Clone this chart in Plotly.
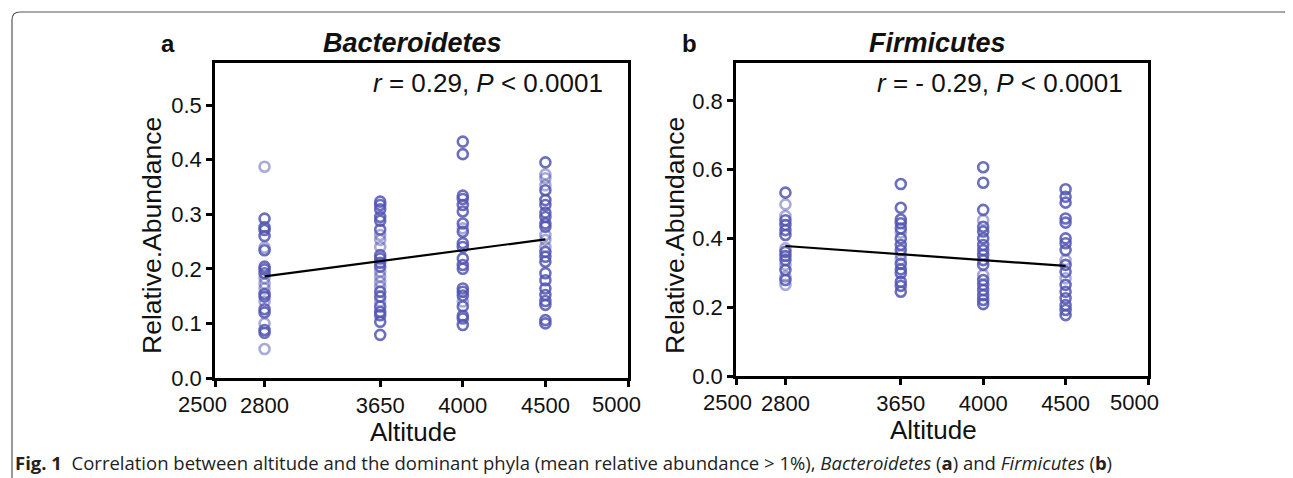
import plotly.graph_objects as go

W, H = 1293, 478          # browser window
OFF = 8                   # default page margin around the plot div
WF, HF = W - OFF, H - OFF # figure size so that it fills the window exactly

# ---------------- data ----------------
altitude_labels = ["2800", "3650", "4000", "4500"]
altitude_pos = [2800, 3500, 4000, 4500]          # where each site sits on the drawn axis
axis_ticks = [2500, 2800, 3500, 4000, 4500, 5000]
axis_ticktext = ["", "2800", "3650", "4000", "4500", ""]
edge_labels = ["2500", "5000"]

bact_dark = [
    [0.292, 0.276, 0.271, 0.260, 0.234, 0.204, 0.199, 0.192, 0.154, 0.149, 0.126, 0.120, 0.088, 0.083],
    [0.323, 0.317, 0.309, 0.295, 0.288, 0.272, 0.225, 0.219, 0.211, 0.204, 0.158, 0.149, 0.131, 0.121, 0.115, 0.103, 0.079],
    [0.433, 0.410, 0.334, 0.328, 0.317, 0.305, 0.283, 0.268, 0.247, 0.240, 0.219, 0.207, 0.200, 0.164, 0.158, 0.151, 0.131, 0.114, 0.109, 0.097],
    [0.395, 0.344, 0.326, 0.317, 0.303, 0.295, 0.283, 0.277, 0.231, 0.222, 0.213, 0.192, 0.179, 0.164, 0.152, 0.141, 0.134, 0.106, 0.100],
]
bact_light = [
    [0.387, 0.239, 0.183, 0.173, 0.164, 0.140, 0.100, 0.053],
    [0.262, 0.253, 0.240, 0.195, 0.186, 0.176, 0.167, 0.140],
    [0.274, 0.140],
    [0.373, 0.366, 0.353, 0.262, 0.253, 0.240],
]
firm_dark = [
    [0.533, 0.453, 0.439, 0.424, 0.410, 0.361, 0.349, 0.337, 0.308, 0.279],
    [0.558, 0.489, 0.455, 0.444, 0.429, 0.400, 0.381, 0.366, 0.326, 0.310, 0.299, 0.274, 0.262, 0.245],
    [0.607, 0.562, 0.483, 0.434, 0.420, 0.400, 0.381, 0.366, 0.352, 0.337, 0.323, 0.279, 0.265, 0.250, 0.235, 0.221, 0.209],
    [0.543, 0.521, 0.504, 0.458, 0.446, 0.400, 0.386, 0.366, 0.323, 0.303, 0.265, 0.245, 0.226, 0.206, 0.192, 0.177],
]
firm_light = [
    [0.499, 0.465, 0.371, 0.323, 0.289, 0.265],
    [0.417, 0.352, 0.339],
    [0.453, 0.294],
    [0.337, 0.284],
]
trend_x = [2800, 4500]
bact_trend = [0.186, 0.254]
firm_trend = [0.378, 0.320]

# ---------------- helpers (window pixels -> paper fractions) ----------------
def px(x):
    return (x - OFF) / WF

def py(y):
    return 1 - (y - OFF) / HF

FONT = "Liberation Sans, Arial, sans-serif"
MARK = "rgb(82,86,178)"

fig = go.Figure()

def add_points(dark, light, xa, ya):
    for vals, op in ((light, 0.5), (dark, 0.85)):
        xs, ys = [], []
        for pos, col in zip(altitude_pos, vals):
            xs += [pos] * len(col)
            ys += col
        fig.add_trace(go.Scatter(
            x=xs, y=ys, mode="markers", xaxis=xa, yaxis=ya, showlegend=False,
            marker=dict(symbol="circle-open", size=10, color=MARK, opacity=op,
                        line=dict(width=2.6, color=MARK)),
            hoverinfo="x+y"))

add_points(bact_dark, bact_light, "x", "y")
add_points(firm_dark, firm_light, "x2", "y2")
fig.add_trace(go.Scatter(x=trend_x, y=bact_trend, mode="lines", xaxis="x", yaxis="y",
                         line=dict(color="black", width=2.2), showlegend=False))
fig.add_trace(go.Scatter(x=trend_x, y=firm_trend, mode="lines", xaxis="x2", yaxis="y2",
                         line=dict(color="black", width=2.2), showlegend=False))

axis_common = dict(showgrid=False, zeroline=False, showline=True, linecolor="black",
                   linewidth=2.5, mirror=True, ticks="outside", ticklen=6, tickwidth=2.5,
                   tickcolor="black", automargin=False, tickangle=0,
                   tickfont=dict(family=FONT, size=22, color="#111"))

fig.update_layout(
    template="none",
    width=WF, height=HF, autosize=False,
    margin=dict(l=0, r=0, t=0, b=0, pad=0),
    paper_bgcolor="white", plot_bgcolor="white",
    showlegend=False,
    xaxis=dict(domain=[px(215), px(628)], range=[2500, 5000], anchor="y",
               tickvals=axis_ticks, ticktext=axis_ticktext, **axis_common),
    yaxis=dict(domain=[py(378), py(63)], range=[0, 0.577], anchor="x",
               tickvals=[0, 0.1, 0.2, 0.3, 0.4, 0.5], tickformat=".1f", **axis_common),
    xaxis2=dict(domain=[px(736), px(1148)], range=[2500, 5000], anchor="y2",
                tickvals=axis_ticks, ticktext=axis_ticktext, **axis_common),
    yaxis2=dict(domain=[py(376), py(63)], range=[0, 0.91], anchor="x2",
                tickvals=[0, 0.2, 0.4, 0.6, 0.8], tickformat=".1f", **axis_common),
)

def ann(text, x, y, size, xanchor="center", angle=0, family=FONT, color="#111"):
    fig.add_annotation(text=text, x=px(x), y=py(y), xref="paper", yref="paper",
                       xanchor=xanchor, yanchor="middle", showarrow=False, textangle=angle,
                       font=dict(family=family, size=size, color=color))

# end-of-axis tick labels, nudged inwards as in the original
ann(edge_labels[0], 202, 404, 22)
ann(edge_labels[1], 616, 404, 22)
ann(edge_labels[0], 727, 402, 22)
ann(edge_labels[1], 1134, 402, 22)

# panel labels and titles
ann("<b>a</b>", 168, 43, 24)
ann("<b>b</b>", 689, 43, 24)
ann("<b><i>Bacteroidetes</i></b>", 412, 43, 27)
ann("<b><i>Firmicutes</i></b>", 937, 43, 27)
ann("<i>r</i> = 0.29, <i>P</i> &lt; 0.0001", 605, 83, 26, xanchor="right")
ann("<i>r</i> = - 0.29, <i>P</i> &lt; 0.0001", 1125, 83, 26, xanchor="right")
# axis titles
ann("Altitude", 413, 432, 26)
ann("Altitude", 933, 430, 26)
ann("Relative.Abundance", 152, 236, 26.5, angle=-90)
ann("Relative.Abundance", 675, 236, 26.5, angle=-90)
# caption
fig.add_annotation(
    text="<b>Fig. 1</b>  Correlation between altitude and the dominant phyla (mean relative abundance &gt; 1%), "
         "<i>Bacteroidetes</i> (<b>a</b>) and <i>Firmicutes</i> (<b>b</b>)",
    x=px(13), y=py(462), xref="paper", yref="paper", xanchor="left", yanchor="middle",
    showarrow=False, font=dict(family="Open Sans, Noto Sans, sans-serif", size=18.5, color="#222"))

# figure frame (rounded box)
r_x, r_y = 8 / WF, 8 / HF
L, T, R = px(12), py(12), px(1291)
path = (f"M {L},0 L {L},{T - r_y} Q {L},{T} {L + r_x},{T} "
        f"L {R - r_x},{T} Q {R},{T} {R},{T - r_y} L {R},0")
fig.add_shape(type="path", path=path, xref="paper", yref="paper",
              line=dict(color="#555", width=1.2))

fig.write_html("out.html")
